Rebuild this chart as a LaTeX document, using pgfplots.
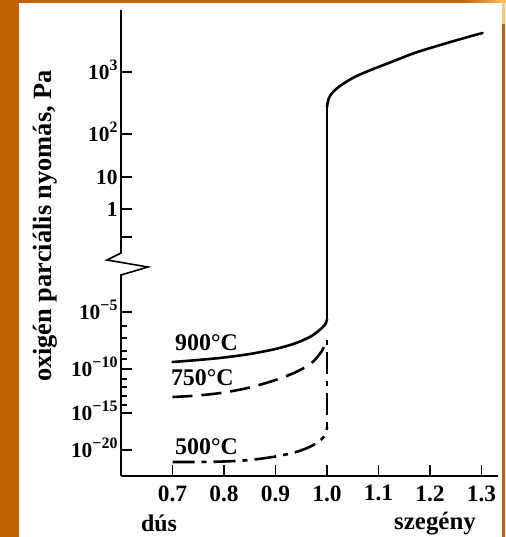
\documentclass[border=0pt]{standalone}
\usepackage{pgfplots}
\pgfplotsset{compat=1.18}
\usepackage{fontspec}
\setmainfont{Liberation Serif}
\definecolor{frameor}{RGB}{196,98,0}
\definecolor{framelt}{RGB}{250,198,100}
\newcommand{\ex}[1]{10\raisebox{0.42em}{\smash{\fontsize{16}{16}\selectfont #1}}}
\begin{document}
\begin{tikzpicture}
\useasboundingbox (0,0) rectangle (506bp,537bp);
\fill[white] (0,0) rectangle (506bp,537bp);
\fill[frameor] (0,0) rectangle (19bp,537bp);
\fill[frameor] (0,534bp) rectangle (463bp,537bp);
\shade[left color=frameor,right color=framelt] (463bp,534bp) rectangle (506bp,537bp);
\fill[frameor] (502bp,0) rectangle (505bp,513bp);
\fill[framelt] (502bp,513bp) rectangle (505bp,537bp);

\begin{axis}[
  at={(121bp,61bp)}, anchor=south west, scale only axis,
  width=377bp, height=466bp,
  xmin=0.6, xmax=1.332, ymin=61, ymax=527,
  axis x line*=bottom, axis y line*=left,
  axis line style={-, line width=1.6bp},
  y axis line style={draw=none},
  xtick={0.7,0.8,0.9,1.0,1.1,1.2,1.3},
  xticklabels={0.7,0.8,0.9,1.0,1.1,1.2,1.3},
  ytick={465,403,360,328,300,225,168,124,87},
  yticklabels={\ex{3},\ex{2},10,1,,\ex{−5},\ex{−10},\ex{−15},\ex{−20}},
  minor ytick={211,199,186,178,158,150,141,132},
  tick align=inside, major tick length=11bp, minor tick length=6bp,
  tick style={black, line width=1.4bp},
  xticklabel style={font=\bfseries\fontsize{23.5}{25}\selectfont, yshift=-6bp},
  yticklabel style={font=\bfseries\fontsize{21.5}{23}\selectfont},
  clip=false,
]
% 900 C
\addplot[black, line width=2.6bp, smooth, tension=0.5, line cap=round] coordinates {
 (0.70,175) (0.75,177) (0.80,179.5) (0.85,183) (0.90,188) (0.94,194) (0.97,201) (0.99,209) (0.998,214) (1.0,218)};
\addplot[black, line width=2.6bp] coordinates {(1.0,218) (1.0,430)};
\addplot[black, line width=2.6bp, smooth, tension=0.5, line cap=round] coordinates {
 (1.0,430) (1.003,438) (1.01,444) (1.025,451) (1.05,459) (1.08,466) (1.12,474) (1.17,484) (1.22,492) (1.27,499.5) (1.302,504)};
% 750 C
\addplot[black, line width=2.6bp, smooth, tension=0.5, dash pattern=on 20bp off 9bp] coordinates {
 (0.70,140) (0.75,141.5) (0.80,144.5) (0.85,149.5) (0.90,157) (0.94,165) (0.97,174) (0.99,186) (1.0,198)};
% 500 C
\addplot[black, line width=2.6bp, smooth, tension=0.5, dash pattern=on 22bp off 7bp on 5bp off 7bp] coordinates {
 (0.70,75) (0.75,75) (0.80,75.5) (0.85,77) (0.90,80.5) (0.94,85) (0.97,91) (0.99,98) (0.998,104) (1.0,110)};
\addplot[black, line width=2.6bp, dash pattern=on 5bp off 7bp on 22bp off 7bp] coordinates {(1.0,110) (1.0,197)};
\node[font=\bfseries\fontsize{24}{26}\selectfont] at (axis cs:0.766,194) {900°C};
\node[font=\bfseries\fontsize{24}{26}\selectfont] at (axis cs:0.758,159) {750°C};
\node[font=\bfseries\fontsize{24}{26}\selectfont] at (axis cs:0.766,90) {500°C};
\end{axis}

% y axis line with break
\draw[line width=1.6bp, line join=miter] (121bp,61bp) -- (121bp,262bp) -- (148bp,270bp) -- (107bp,277bp) -- (121bp,284bp) -- (121bp,527bp);

\node[rotate=90, font=\bfseries\fontsize{26.5}{28}\selectfont] at (45bp,311bp) {oxigén parciális nyomás, Pa};
\node[font=\bfseries\fontsize{24}{26}\selectfont] at (159bp,14bp) {dús};
\node[font=\bfseries\fontsize{25}{27}\selectfont] at (435bp,13bp) {szegény};
\end{tikzpicture}
\end{document}
